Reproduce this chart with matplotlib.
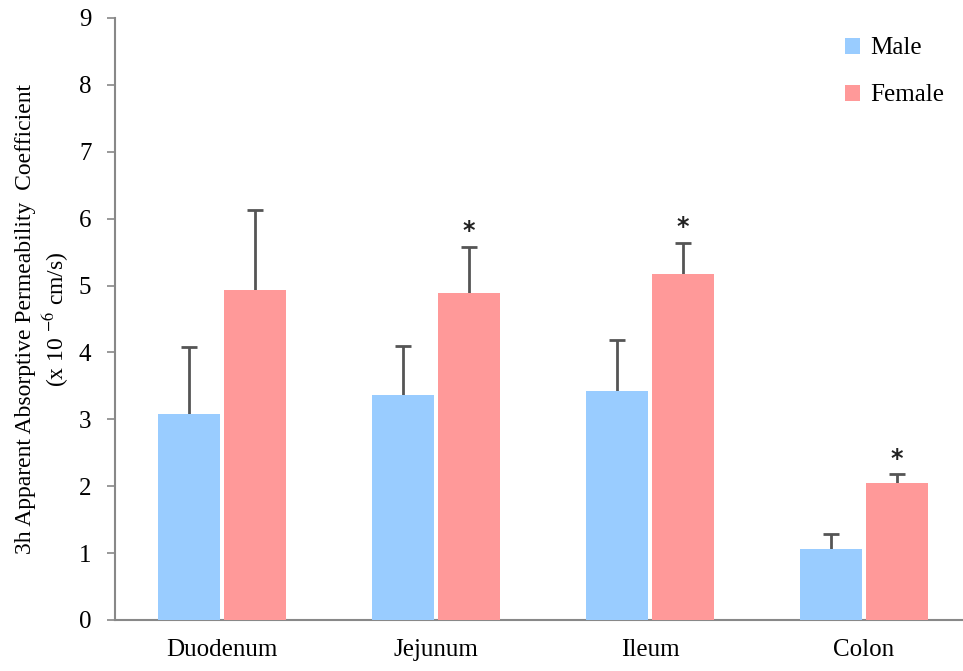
import numpy as np
import matplotlib
matplotlib.use("Agg")
import matplotlib.pyplot as plt

plt.rcParams['font.family'] = ['Liberation Serif', 'DejaVu Serif']
plt.rcParams['mathtext.fontset'] = 'stix'

regions = ['Duodenum', 'Jejunum', 'Ileum', 'Colon']
male = [3.08, 3.36, 3.42, 1.06]
male_err = [1.00, 0.74, 0.77, 0.23]
female = [4.94, 4.89, 5.17, 2.05]
female_err = [1.19, 0.69, 0.47, 0.13]
signif = [False, True, True, True]

fig = plt.figure(figsize=(9.63, 6.71), dpi=100)
ax = fig.add_axes([115/963, 51/671, 856/963, 602/671])

x = np.arange(len(regions))
w = 0.29
off = 0.153
ax.bar(x - off, male, w, color='#99CCFF', label='Male', zorder=3)
ax.bar(x + off, female, w, color='#FF9999', label='Female', zorder=3)
# error bars sit behind the bars so only the upper half shows
ekw = dict(fmt='none', ecolor='#555555', elinewidth=2, capsize=6, capthick=2, zorder=2)
ax.errorbar(x - off, male, yerr=male_err, **ekw)
ax.errorbar(x + off, female, yerr=female_err, **ekw)

for i in range(len(regions)):
    if signif[i]:
        ax.text(x[i] + off, female[i] + female_err[i] + 0.23, '*', ha='center', va='center',
                fontsize=17, fontweight='bold', family='DejaVu Sans', color='#222222')

ax.set_xlim(-0.5, 3.5)
ax.set_ylim(0, 9)
ax.set_yticks(range(10))
ax.set_xticks(x)
ax.set_xticklabels(regions)
ax.tick_params(axis='y', labelsize=18, length=6, width=1.2, color='#888888', pad=11)
ax.tick_params(axis='x', labelsize=18, length=0, pad=14)
for s in ['top', 'right']:
    ax.spines[s].set_visible(False)
for s in ['left', 'bottom']:
    ax.spines[s].set_color('#888888')
    ax.spines[s].set_linewidth(1.5)

ax.set_ylabel('3h Apparent Absorptive Permeability  Coefficient\n(x 10 $^{-6}$ cm/s)',
              fontsize=17, labelpad=6, linespacing=1.2)

ax.legend(loc='upper right', bbox_to_anchor=(0.995, 1.005), frameon=False, fontsize=18,
          handlelength=0.6, handleheight=0.6, handletextpad=0.4, labelspacing=1.0)

fig.savefig('out.png', dpi=100)
